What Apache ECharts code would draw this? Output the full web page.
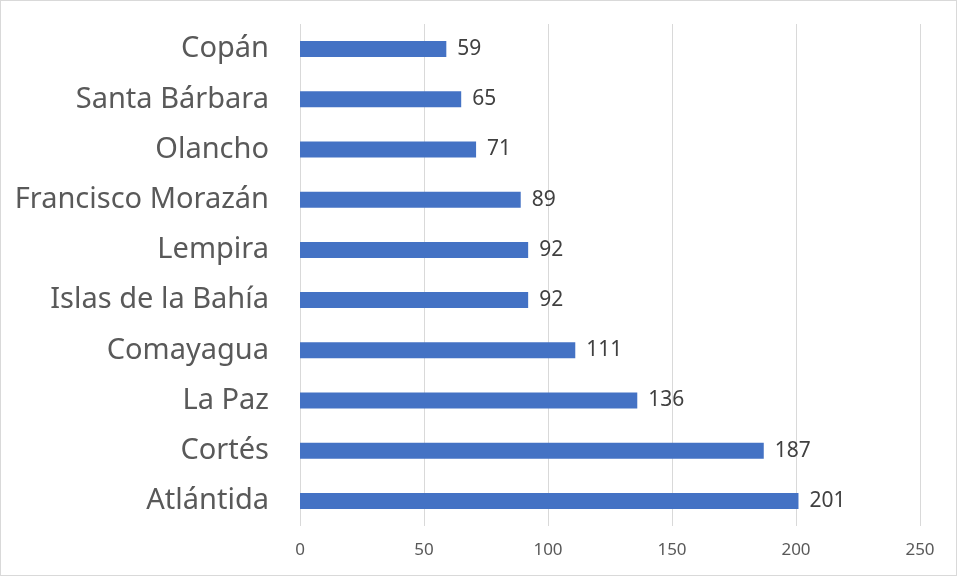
<!DOCTYPE html>
<html lang="es">
<head>
    <meta charset="UTF-8">
    <title>Departamentos</title>
    <script type="text/javascript" src="https://cdn.jsdelivr.net/npm/echarts@6/dist/echarts.min.js"></script>
</head>
<body>
<div id="chart"></div>
</body>
<style>
    * {
        padding: 0;
        margin: 0;
    }

    html, body {
        width: 100%;
        height: 100%;
        background-color: white;
    }

    #chart {
        box-sizing: border-box;
        width: 957px;
        height: 576px;
        border: 1px solid #d9d9d9;
    }
</style>
<script>

    // top to bottom, as in the picture
    const departamentos = ["Copán", "Santa Bárbara", "Olancho", "Francisco Morazán", "Lempira",
        "Islas de la Bahía", "Comayagua", "La Paz", "Cortés", "Atlántida"]
    const valores = [59, 65, 71, 89, 92, 92, 111, 136, 187, 201]
    const ejeTicks = [0, 50, 100, 150, 200, 250]

    let chart = echarts.init(document.getElementById("chart"))
    let font = "'Noto Sans', 'Open Sans', sans-serif"

    chart.setOption({
        animation: false,
        grid: {left: 299, right: 36, top: 23, bottom: 49, containLabel: false},
        xAxis: {
            type: 'value',
            min: ejeTicks[0],
            max: ejeTicks[ejeTicks.length - 1],
            interval: 50,
            axisLine: {show: false},
            axisTick: {show: false},
            splitLine: {lineStyle: {color: '#d9d9d9', width: 1}},
            axisLabel: {color: '#595959', fontSize: 17, fontFamily: font, margin: 16}
        },
        yAxis: {
            type: 'category',
            inverse: true,
            data: departamentos,
            axisLine: {show: false},
            axisTick: {show: false},
            axisLabel: {color: '#595959', fontSize: 29, fontFamily: font, margin: 31, padding: [3, 0, 0, 0]}
        },
        series: [{
            type: 'bar',
            data: valores,
            barWidth: 16,
            itemStyle: {color: '#4472c4'},
            label: {
                show: true,
                position: 'right',
                distance: 11,
                color: '#404040',
                fontSize: 21,
                fontFamily: font,
                padding: [3, 0, 0, 0]
            }
        }]
    })

</script>
</html>
